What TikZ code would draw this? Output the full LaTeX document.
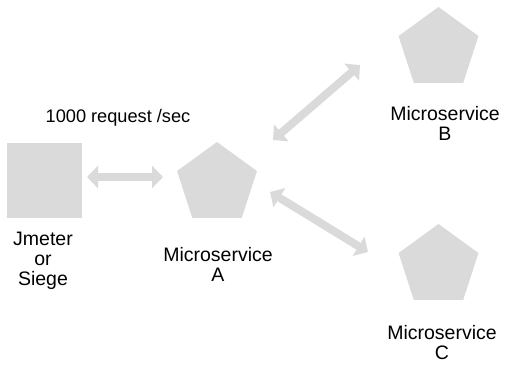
\documentclass[tikz,border=0pt]{standalone}
\usepackage{fontspec}
\setmainfont{Liberation Sans}
\usetikzlibrary{shapes.geometric,arrows.meta}
\definecolor{shapegray}{HTML}{DADADA}
\tikzset{
  penta/.style={regular polygon, regular polygon sides=5, minimum size=84pt, inner sep=0pt, fill=shapegray, draw=none},
  sq/.style={minimum size=75pt, inner sep=0pt, fill=shapegray, draw=none},
  lbl/.style={align=center, font=\fontsize{19.5}{20}\selectfont, inner sep=0pt},
  ttl/.style={align=center, font=\fontsize{18.2}{20}\selectfont, inner sep=0pt},
  bigarrow/.style={draw=shapegray, line width=8pt, {Triangle[width=22pt,length=11pt]}-{Triangle[width=22pt,length=11pt]}}
}
\begin{document}
\begin{tikzpicture}[x=1pt,y=-1pt]
\useasboundingbox (0,0) rectangle (507,370);
\node[sq] (jm) at (44.5,180.5) {};
\node[penta] (ma) at (217,184) {};
\node[penta] (mb) at (438.5,49) {};
\node[penta] (mc) at (438.5,266) {};
\node[ttl] (rate) at (118,118) {1000 request /sec};
\node[lbl] (jmlbl) at (43,261) {Jmeter\\or\\Siege};
\node[lbl] (malbl) at (218,264) {Microservice\\A};
\node[lbl] (mblbl) at (445,123) {Microservice\\B};
\node[lbl] (mclbl) at (442,343) {Microservice\\C};
\coordinate (p1) at (87,177);
\coordinate (p2) at (163,177);
\coordinate (p3) at (273,140);
\coordinate (p4) at (360,65);
\coordinate (p5) at (270,192);
\coordinate (p6) at (368,252);
\draw[bigarrow] (p1) -- (p2);
\draw[bigarrow] (p3) -- (p4);
\draw[bigarrow] (p5) -- (p6);
\end{tikzpicture}
\end{document}
